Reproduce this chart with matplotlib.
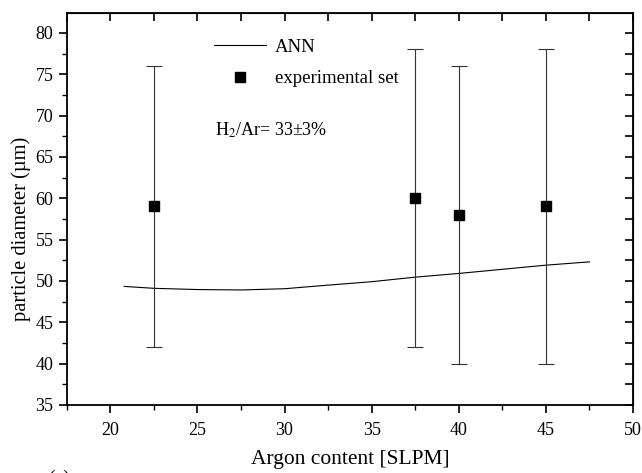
import matplotlib
matplotlib.use("Agg")
import matplotlib.pyplot as plt
from matplotlib.ticker import MultipleLocator
from matplotlib.lines import Line2D

plt.rcParams['font.family'] = ['Liberation Serif', 'DejaVu Serif']
plt.rcParams['mathtext.fontset'] = 'stix'

# ANN model curve
ann_x = [20.8, 22.5, 25.0, 27.5, 30.0, 32.0, 35.0, 37.5, 40.0, 42.5, 45.0, 47.5]
ann_y = [49.33, 49.1, 48.95, 48.9, 49.05, 49.4, 49.9, 50.45, 50.9, 51.4, 51.9, 52.3]

# Experimental set
exp_x = [22.5, 37.5, 40.0, 45.0]
exp_y = [59.0, 60.0, 58.0, 59.0]
exp_lo = [42.0, 42.0, 40.0, 40.0]
exp_hi = [76.0, 78.0, 76.0, 78.0]

fig = plt.figure(figsize=(6.42, 4.73), dpi=100)
ax = fig.add_axes([0.104, 0.144, 0.882, 0.8285])

ax.plot(ann_x, ann_y, color='black', lw=0.8)
yerr = [[y - l for y, l in zip(exp_y, exp_lo)], [h - y for y, h in zip(exp_y, exp_hi)]]
ax.errorbar(exp_x, exp_y, yerr=yerr, fmt='s', color='black', ms=7,
            ecolor='#333333', elinewidth=0.8, capsize=6, capthick=0.8)

ax.set_xlim(17.5, 50)
ax.set_ylim(35, 82.4)
ax.xaxis.set_major_locator(MultipleLocator(5))
ax.xaxis.set_minor_locator(MultipleLocator(2.5))
ax.yaxis.set_major_locator(MultipleLocator(5))
ax.yaxis.set_minor_locator(MultipleLocator(2.5))

for s in ax.spines.values():
    s.set_linewidth(1.3)

ax.tick_params(axis='both', which='major', direction='out', length=6, width=1.2,
               labelsize=13, top=False, right=False)
ax.tick_params(axis='both', which='minor', direction='out', length=3.5, width=1.0,
               top=False, right=False)
ax.tick_params(axis='x', which='major', pad=6)
ax.tick_params(axis='y', which='major', pad=3.5)

# inward ticks on top and right (secondary axes)
ax_t = ax.secondary_xaxis('top')
ax_t.xaxis.set_major_locator(MultipleLocator(2.5))
ax_t.tick_params(direction='in', length=5.5, width=1.2, labeltop=False)
ax_r = ax.secondary_yaxis('right')
ax_r.yaxis.set_major_locator(MultipleLocator(2.5))
ax_r.tick_params(direction='in', length=5.5, width=1.2, labelright=False)

ax.set_xlabel('Argon content [SLPM]', fontsize=15.5, labelpad=8)
ax.set_ylabel('particle diameter (\u00b5m)', fontsize=14.8)
ax.yaxis.set_label_coords(-0.063, 0.449)

handles = [Line2D([], [], color='black', lw=0.8),
           Line2D([], [], color='black', marker='s', ls='none', ms=7)]
ax.legend(handles, ['ANN', 'experimental set'], loc='upper left',
          bbox_to_anchor=(0.23, 0.978), frameon=False, fontsize=13.5,
          handlelength=2.8, handletextpad=0.45, labelspacing=0.78)

ax.text(0.262, 0.700, 'H$_2$/Ar= 33\u00b13%', transform=ax.transAxes,
        fontsize=13, va='center', ha='left')

fig.text(0.075, -0.012, '(a)', fontsize=14, va='center', ha='left')

fig.savefig('out.png', dpi=100)
